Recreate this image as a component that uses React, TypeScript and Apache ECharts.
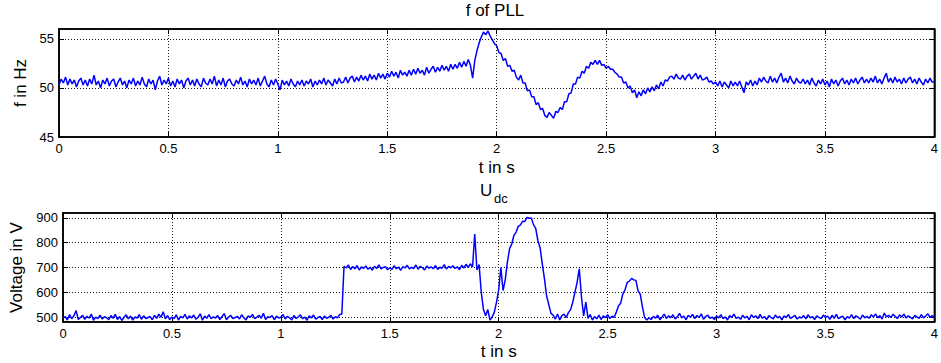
import React, { useEffect, useRef } from "react";
import * as echarts from "echarts";

// sample spacing of both recorded signals (s)
const T_STEP = 0.01;

// f of PLL (Hz), t = 0.00 ... 4.00 s
const fPLL: number[] = [
  50.3, 50.9, 50.5, 51.1, 50.3, 50.9, 50.4, 50.8, 50.1, 50.7,
  51.0, 50.3, 50.8, 50.2, 50.9, 50.4, 51.3, 50.3, 50.7, 50.0,
  50.8, 50.4, 51.0, 50.2, 50.7, 50.9, 50.1, 50.6, 51.0, 50.3,
  50.7, 50.0, 50.8, 50.4, 51.0, 50.2, 50.7, 50.3, 51.1, 50.4,
  50.1, 50.9, 50.4, 50.8, 49.8, 50.7, 51.2, 50.3, 50.8, 50.4,
  51.0, 50.2, 50.7, 50.1, 50.9, 50.4, 50.8, 50.0, 50.7, 51.0,
  50.3, 50.8, 50.2, 50.9, 50.4, 50.1, 51.0, 50.5, 50.3, 50.9,
  50.4, 51.2, 50.2, 50.8, 50.3, 51.0, 50.1, 50.7, 50.9, 50.4,
  50.2, 50.8, 50.4, 51.1, 50.3, 50.7, 50.1, 50.9, 50.4, 50.8,
  50.3, 51.0, 50.2, 50.7, 51.2, 50.4, 50.1, 50.8, 50.3, 50.9,
  50.4, 49.8, 50.8, 50.3, 50.7, 50.2, 50.9, 50.4, 50.1, 50.7,
  50.3, 50.8, 50.2, 50.7, 50.4, 50.9, 50.1, 50.7, 50.3, 50.8,
  50.4, 51.0, 50.3, 50.8, 50.5, 50.2, 50.9, 50.4, 51.0, 50.5,
  50.6, 51.1, 50.5, 51.0, 51.2, 50.6, 51.1, 50.7, 51.3, 50.8,
  51.2, 50.7, 51.4, 50.9, 51.3, 50.8, 51.5, 51.0, 51.4, 50.9,
  51.5, 51.1, 51.7, 51.2, 51.6, 51.0, 51.8, 51.3, 51.6, 51.2,
  51.8, 51.3, 51.9, 51.4, 52.0, 51.5, 51.8, 51.3, 52.1, 51.5,
  51.9, 52.2, 51.6, 52.1, 51.7, 52.3, 51.8, 52.2, 51.7, 52.4,
  51.9, 52.4, 52.0, 52.6, 52.1, 52.7, 52.2, 52.9, 52.3, 51.0,
  52.8, 53.8, 54.6, 55.2, 55.7, 55.4, 55.8, 55.3, 54.9, 54.5,
  54.3, 53.6, 53.5, 52.8, 53.0, 52.2, 52.3, 51.7, 51.8, 51.1,
  50.8, 51.3, 50.5, 50.5, 49.7, 49.8, 49.1, 49.1, 48.3, 48.5,
  47.8, 47.9, 47.2, 47.0, 47.5, 47.2, 46.9, 47.6, 47.5, 48.0,
  47.8, 48.6, 48.6, 49.4, 49.5, 50.4, 50.4, 51.1, 51.0, 51.7,
  51.5, 52.2, 52.0, 52.6, 52.4, 52.8, 52.4, 52.8, 52.3, 52.4,
  52.0, 52.2, 51.9, 51.9, 51.6, 51.4, 51.1, 51.1, 50.5, 50.6,
  50.0, 50.2, 49.5, 49.8, 49.0, 49.6, 49.2, 49.8, 49.4, 50.0,
  49.6, 50.1, 49.7, 50.3, 49.9, 50.6, 50.2, 50.8, 50.7, 51.1,
  51.2, 50.9, 51.4, 51.0, 50.9, 51.3, 50.8, 51.2, 51.4, 50.9,
  51.2, 51.5, 50.9, 51.3, 50.8, 50.9, 51.1, 50.6, 50.7, 50.4,
  50.6, 50.2, 50.7, 50.1, 50.6, 50.3, 50.0, 50.7, 50.2, 50.6,
  50.2, 50.7, 50.1, 49.5, 50.6, 50.3, 50.8, 50.2, 50.7, 50.3,
  51.0, 50.6, 51.1, 50.7, 50.5, 51.2, 50.6, 51.0, 50.5, 51.1,
  51.5, 50.6, 51.0, 50.5, 51.2, 50.7, 50.4, 51.0, 50.6, 50.5,
  50.9, 50.4, 50.8, 50.3, 51.0, 50.5, 50.2, 50.8, 50.4, 50.9,
  50.3, 50.7, 50.1, 50.9, 50.4, 50.8, 50.2, 50.7, 51.0, 50.4,
  50.8, 50.3, 50.9, 50.5, 51.0, 50.4, 50.8, 51.1, 50.5, 50.9,
  50.5, 51.0, 50.6, 51.2, 50.5, 50.9, 50.4, 51.0, 51.5, 50.6,
  51.0, 50.5, 51.1, 50.6, 50.9, 50.4, 51.0, 50.5, 50.9, 51.1,
  50.5, 50.9, 50.4, 51.0, 50.6, 50.3, 50.9, 50.5, 51.0, 50.6,
  50.6,
];

// U_dc (V), t = 0.00 ... 4.00 s
const uDC: number[] = [
  495, 502, 488, 510, 493, 505, 526, 490, 498, 507,
  491, 503, 496, 512, 487, 500, 494, 508, 492, 501,
  497, 489, 506, 495, 511, 490, 502, 486, 499, 509,
  493, 504, 488, 500, 496, 510, 491, 505, 494, 498,
  502, 489, 507, 495, 512, 499, 521, 493, 506, 490,
  500, 494, 509, 488, 503, 497, 511, 492, 505, 496,
  508, 491, 499, 513, 487, 504, 495, 510, 493, 501,
  496, 506, 490, 502, 514, 489, 500, 507, 494, 498,
  503, 492, 509, 497, 488, 505, 499, 511, 493, 500,
  507, 495, 515, 490, 501, 498, 506, 489, 504, 496,
  499, 510, 492, 503, 497, 488, 506, 494, 501, 509,
  493, 500, 487, 505, 496, 508, 491, 498, 502, 490,
  504, 495, 499, 507, 492, 501, 497, 510, 512, 705,
  698, 710, 692, 704, 695, 708, 690, 702, 697, 706,
  693, 701, 689, 705, 696, 711, 694, 700, 703, 691,
  699, 692, 707, 695, 702, 688, 704, 698, 709, 694,
  701, 696, 710, 693, 705, 699, 690, 706, 697, 703,
  695, 708, 692, 701, 697, 712, 694, 704, 699, 707,
  696, 703, 691, 709, 698, 713, 700, 715, 702, 835,
  690, 712, 600, 530, 505, 530, 488, 500, 520, 560,
  610, 700, 607, 650, 722, 776, 795, 830, 843, 866,
  872, 887, 886, 902, 899, 900, 872, 858, 808, 780,
  715, 655, 585, 550, 515, 508, 492, 512, 488, 506,
  512, 498, 518, 530, 560, 600, 640, 695, 580, 505,
  560, 495, 510, 488, 502, 493, 508, 490, 505, 497,
  510, 494, 503, 499, 520, 545, 556, 594, 610, 640,
  645, 656, 650, 648, 605, 592, 540, 498, 488, 497,
  490, 503, 495, 508, 489, 500, 512, 494, 505, 498,
  509, 492, 501, 515, 496, 504, 489, 507, 499, 511,
  494, 506, 498, 513, 491, 502, 508, 495, 500, 490,
  504, 497, 510, 493, 501, 488, 506, 499, 512, 495,
  500, 491, 507, 496, 503, 489, 509, 498, 505, 494,
  511, 495, 502, 490, 506, 499, 493, 508, 497, 503,
  489, 505, 498, 510, 494, 501, 507, 492, 500, 496,
  506, 493, 509, 497, 502, 490, 505, 499, 494, 508,
  498, 504, 491, 507, 495, 511, 493, 500, 503, 489,
  502, 496, 510, 494, 505, 499, 491, 508, 497, 503,
  495, 509, 500, 513, 497, 506, 492, 516, 501, 507,
  498, 511, 503, 494, 509, 500, 512, 496, 505, 499,
  493, 507, 501, 495, 510, 497, 504, 513, 499, 506,
  500,
];

const uTicks: number[] = [500, 600, 700, 800, 900];

const titleTop = "f of PLL";
const titleBottomMain = "U";
const titleBottomSub = "dc";
const xName = "t in s";
const yNameTop = "f in Hz";
const yNameBottom = "Voltage in V";

const FONT = "'Liberation Sans', Arial, Helvetica, sans-serif";

export default function App() {
  const ref = useRef<HTMLDivElement>(null);

  useEffect(() => {
    if (!ref.current) return;
    const chart = echarts.init(ref.current, null, { renderer: "svg" });

    const fData = fPLL.map((v, i) => [Number((i * T_STEP).toFixed(2)), v]);
    const uData = uDC.map((v, i) => [Number((i * T_STEP).toFixed(2)), v]);

    const axisLine = { show: true, onZero: false, lineStyle: { color: "#000", width: 1.5 } };
    const tick = { show: true, inside: true, length: 5, lineStyle: { color: "#000", width: 1 } };
    const split = { show: true, lineStyle: { color: "#000", type: [1, 2] as any, width: 0.9 } };
    const label = { color: "#000", fontSize: 13, fontFamily: FONT, margin: 5 };
    const nameStyle = { color: "#000", fontSize: 17, fontFamily: FONT };

    const xMain = (gridIndex: number, gap: number) => ({
      type: "value",
      gridIndex,
      min: 0,
      max: 4,
      interval: 0.5,
      axisLine,
      axisTick: tick,
      axisLabel: label,
      splitLine: split,
      name: xName,
      nameLocation: "middle",
      nameGap: gap,
      nameTextStyle: nameStyle,
    });
    const xTop = (gridIndex: number) => ({
      type: "value",
      gridIndex,
      position: "top",
      min: 0,
      max: 4,
      interval: 0.5,
      axisLine,
      axisTick: tick,
      axisLabel: { show: false },
      splitLine: { show: false },
    });

    const option: any = {
      animation: false,
      backgroundColor: "#fff",
      title: [
        {
          text: titleTop,
          left: 495,
          top: 2,
          padding: 0,
          textAlign: "center",
          textStyle: { color: "#000", fontSize: 17, fontWeight: "normal", fontFamily: FONT },
        },
        {
          text: titleBottomMain,
          left: 480,
          top: 182,
          padding: 0,
          textStyle: { color: "#000", fontSize: 17, fontWeight: "normal", fontFamily: FONT },
        },
        {
          text: titleBottomSub,
          left: 494,
          top: 192,
          padding: 0,
          textStyle: { color: "#000", fontSize: 13, fontWeight: "normal", fontFamily: FONT },
        },
      ],
      grid: [
        { left: 59, top: 29, width: 876, height: 108, show: true, borderColor: "#000", borderWidth: 1.5, backgroundColor: "#fff" },
        { left: 59, top: 213, width: 876, height: 109, show: true, borderColor: "#000", borderWidth: 1.5, backgroundColor: "#fff" },
      ],
      xAxis: [xMain(0, 22), xMain(1, 21), xTop(0), xTop(1)],
      yAxis: [
        {
          type: "value",
          gridIndex: 0,
          min: 45,
          max: 56,
          interval: 5,
          axisLine,
          axisTick: tick,
          axisLabel: { ...label, showMaxLabel: false },
          splitLine: split,
          name: yNameTop,
          nameLocation: "middle",
          nameGap: 29,
          nameTextStyle: nameStyle,
        },
        {
          type: "value",
          gridIndex: 1,
          min: 480,
          max: 920,
          axisLine,
          axisTick: { ...tick, customValues: uTicks },
          axisLabel: { ...label, customValues: uTicks },
          splitLine: split,
          name: yNameBottom,
          nameLocation: "middle",
          nameGap: 38,
          nameTextStyle: nameStyle,
        },
        {
          type: "value",
          gridIndex: 0,
          position: "right",
          min: 45,
          max: 56,
          interval: 5,
          axisLine,
          axisTick: tick,
          axisLabel: { show: false },
          splitLine: { show: false },
        },
        {
          type: "value",
          gridIndex: 1,
          position: "right",
          min: 480,
          max: 920,
          axisLine,
          axisTick: { ...tick, customValues: uTicks },
          axisLabel: { show: false, customValues: uTicks },
          splitLine: { show: false },
        },
      ],
      series: [
        {
          type: "line",
          xAxisIndex: 0,
          yAxisIndex: 0,
          data: fData,
          showSymbol: false,
          symbol: "none",
          lineStyle: { color: "#0000ff", width: 1.5 },
          z: 5,
        },
        {
          type: "line",
          xAxisIndex: 1,
          yAxisIndex: 1,
          data: uData,
          showSymbol: false,
          symbol: "none",
          lineStyle: { color: "#0000ff", width: 1.5 },
          z: 5,
        },
      ],
    };

    chart.setOption(option);
    return () => chart.dispose();
  }, []);

  return (
    <div
      ref={ref}
      style={{ position: "fixed", left: 0, top: 0, width: 941, height: 363, background: "#fff" }}
    />
  );
}
